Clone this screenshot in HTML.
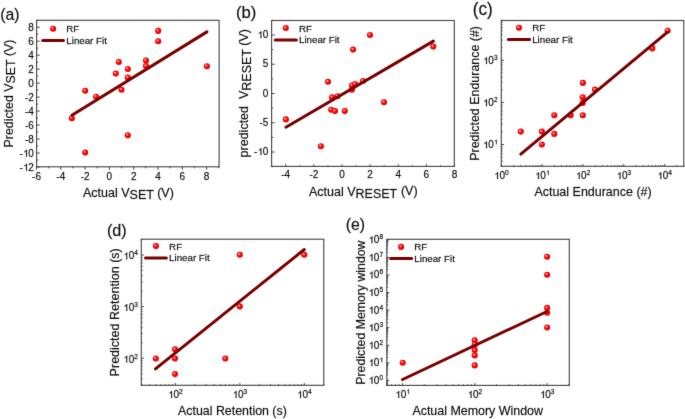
<!DOCTYPE html>
<html><head><meta charset="utf-8"><style>
html,body{margin:0;padding:0;background:#fff;width:685px;height:419px;overflow:hidden}
svg{display:block}
text{stroke:#111;stroke-width:0.3px;stroke-opacity:0.6}
</style></head><body>
<svg width="685" height="419" viewBox="0 0 685 419" font-family='"Liberation Sans", sans-serif' fill="#111111">
<defs><radialGradient id="dot" cx="0.5" cy="0.5" r="0.5" fx="0.33" fy="0.31">
<stop offset="0" stop-color="#ffffff"/><stop offset="0.16" stop-color="#ffb4b4"/><stop offset="0.38" stop-color="#ff2c2c"/><stop offset="0.6" stop-color="#ff0000"/><stop offset="1" stop-color="#e80000"/></radialGradient>
<path id="one" d="M843,0H663V1098Q598,1038 492,979Q387,920 303,890V1057Q454,1125 567,1221Q680,1318 727,1409H843Z" fill="#111111" stroke="#111111" stroke-width="0.3" stroke-opacity="0.6" vector-effect="non-scaling-stroke"/></defs>
<defs><filter id="bl" filterUnits="userSpaceOnUse" x="-6" y="-6" width="697" height="431" color-interpolation-filters="sRGB"><feConvolveMatrix order="3" kernelMatrix="0.0064 0.0672 0.0064 0.0672 0.7056 0.0672 0.0064 0.0672 0.0064" divisor="1" edgeMode="duplicate" preserveAlpha="true"/></filter></defs>
<g filter="url(#bl)">
<rect x="-6" y="-6" width="697" height="431" fill="#fff"/>
<rect x="36.60" y="20.30" width="182.50" height="146.50" fill="none" stroke="#4a4a4a" stroke-width="1.15"/>
<path d="M36.50,166.80v3.00M60.80,166.80v3.00M85.10,166.80v3.00M109.40,166.80v3.00M133.70,166.80v3.00M158.00,166.80v3.00M182.30,166.80v3.00M206.60,166.80v3.00M48.65,166.80v1.50M72.95,166.80v1.50M97.25,166.80v1.50M121.55,166.80v1.50M145.85,166.80v1.50M170.15,166.80v1.50M194.45,166.80v1.50M218.75,166.80v1.50" stroke="#3a3a3a" stroke-width="0.9" fill="none"/>
<path d="M36.60,166.98h3.20M36.60,153.00h3.20M36.60,139.02h3.20M36.60,125.04h3.20M36.60,111.07h3.20M36.60,97.09h3.20M36.60,83.11h3.20M36.60,69.13h3.20M36.60,55.16h3.20M36.60,41.18h3.20M36.60,27.20h3.20M36.60,159.99h1.60M36.60,146.01h1.60M36.60,132.03h1.60M36.60,118.06h1.60M36.60,104.08h1.60M36.60,90.10h1.60M36.60,76.12h1.60M36.60,62.14h1.60M36.60,48.17h1.60M36.60,34.19h1.60M36.60,20.21h1.60" stroke="#3a3a3a" stroke-width="0.9" fill="none"/>
<text x="32.05" y="180.00" font-size="10">-6</text>
<text x="56.35" y="180.00" font-size="10">-4</text>
<text x="80.65" y="180.00" font-size="10">-2</text>
<text x="106.62" y="180.00" font-size="10">0</text>
<text x="130.92" y="180.00" font-size="10">2</text>
<text x="155.22" y="180.00" font-size="10">4</text>
<text x="179.52" y="180.00" font-size="10">6</text>
<text x="203.82" y="180.00" font-size="10">8</text>
<text x="19.45" y="170.68" font-size="10">-&#x2007;2</text>
<use href="#one" transform="translate(22.78,170.68) scale(0.00488,-0.00488)"/>
<text x="19.45" y="156.70" font-size="10">-&#x2007;0</text>
<use href="#one" transform="translate(22.78,156.70) scale(0.00488,-0.00488)"/>
<text x="25.01" y="142.72" font-size="10">-8</text>
<text x="25.01" y="128.74" font-size="10">-6</text>
<text x="25.01" y="114.77" font-size="10">-4</text>
<text x="25.01" y="100.79" font-size="10">-2</text>
<text x="28.34" y="86.81" font-size="10">0</text>
<text x="28.34" y="72.83" font-size="10">2</text>
<text x="28.34" y="58.86" font-size="10">4</text>
<text x="28.34" y="44.88" font-size="10">6</text>
<text x="28.34" y="30.90" font-size="10">8</text>
<circle cx="118.80" cy="62.00" r="3.05" fill="url(#dot)"/>
<circle cx="127.80" cy="69.00" r="3.05" fill="url(#dot)"/>
<circle cx="115.80" cy="73.60" r="3.05" fill="url(#dot)"/>
<circle cx="127.80" cy="77.60" r="3.05" fill="url(#dot)"/>
<circle cx="85.20" cy="90.80" r="3.05" fill="url(#dot)"/>
<circle cx="121.50" cy="89.80" r="3.05" fill="url(#dot)"/>
<circle cx="96.10" cy="96.70" r="3.05" fill="url(#dot)"/>
<circle cx="158.20" cy="30.90" r="3.05" fill="url(#dot)"/>
<circle cx="158.20" cy="41.20" r="3.05" fill="url(#dot)"/>
<circle cx="146.00" cy="60.50" r="3.05" fill="url(#dot)"/>
<circle cx="146.00" cy="66.00" r="3.05" fill="url(#dot)"/>
<circle cx="206.90" cy="66.20" r="3.05" fill="url(#dot)"/>
<circle cx="71.80" cy="118.20" r="3.05" fill="url(#dot)"/>
<circle cx="127.80" cy="135.20" r="3.05" fill="url(#dot)"/>
<circle cx="85.20" cy="152.60" r="3.05" fill="url(#dot)"/>
<line x1="71.90" y1="115.20" x2="206.90" y2="31.90" stroke="#7a0000" stroke-width="3.0" stroke-linecap="round"/>
<circle cx="53.10" cy="28.70" r="3.05" fill="url(#dot)"/>
<line x1="42.70" y1="40.40" x2="63.50" y2="40.40" stroke="#7a0000" stroke-width="3.0" stroke-linecap="round"/>
<text transform="translate(66.30,32.10) scale(1.037,1)" font-size="9.4" >RF</text>
<text transform="translate(66.30,44.00) scale(1.037,1)" font-size="9.4" >Linear Fit</text>
<text transform="translate(0.15,19.90) scale(0.970,1)" font-size="16.3" >(a)</text>
<text x="83.00" y="197.10" font-size="12.5" text-anchor="start" >Actual V<tspan dy="2.1">SET</tspan><tspan dy="-2.1"> (V)</tspan></text>
<text transform="translate(12.80,147.50) rotate(-90) scale(1.000,1)" font-size="12.4" >Predicted V<tspan dy="2.4">SET</tspan><tspan dy="-2.4"> (V)</tspan></text>
<rect x="271.60" y="20.50" width="182.70" height="145.90" fill="none" stroke="#4a4a4a" stroke-width="1.15"/>
<path d="M285.70,166.40v-2.20M313.84,166.40v-2.20M341.98,166.40v-2.20M370.12,166.40v-2.20M398.26,166.40v-2.20M426.40,166.40v-2.20M454.54,166.40v-2.20M271.63,166.40v-1.10M299.77,166.40v-1.10M327.91,166.40v-1.10M356.05,166.40v-1.10M384.19,166.40v-1.10M412.33,166.40v-1.10M440.47,166.40v-1.10" stroke="#3a3a3a" stroke-width="0.9" fill="none"/>
<path d="M271.60,152.00h3.20M271.60,122.75h3.20M271.60,93.50h3.20M271.60,64.25h3.20M271.60,35.00h3.20M271.60,166.62h1.60M271.60,137.38h1.60M271.60,108.12h1.60M271.60,78.88h1.60M271.60,49.62h1.60M271.60,20.38h1.60" stroke="#3a3a3a" stroke-width="0.9" fill="none"/>
<text x="281.25" y="178.20" font-size="10">-4</text>
<text x="309.39" y="178.20" font-size="10">-2</text>
<text x="339.20" y="178.20" font-size="10">0</text>
<text x="367.34" y="178.20" font-size="10">2</text>
<text x="395.48" y="178.20" font-size="10">4</text>
<text x="423.62" y="178.20" font-size="10">6</text>
<text x="451.76" y="178.20" font-size="10">8</text>
<text x="253.95" y="155.10" font-size="10">-&#x2007;0</text>
<use href="#one" transform="translate(257.28,155.10) scale(0.00488,-0.00488)"/>
<text x="259.51" y="125.85" font-size="10">-5</text>
<text x="262.84" y="96.60" font-size="10">0</text>
<text x="262.84" y="67.35" font-size="10">5</text>
<text x="257.28" y="38.10" font-size="10">&#x2007;0</text>
<use href="#one" transform="translate(257.28,38.10) scale(0.00488,-0.00488)"/>
<circle cx="353.10" cy="49.60" r="3.05" fill="url(#dot)"/>
<circle cx="370.00" cy="35.00" r="3.05" fill="url(#dot)"/>
<circle cx="328.00" cy="81.80" r="3.05" fill="url(#dot)"/>
<circle cx="351.90" cy="85.50" r="3.05" fill="url(#dot)"/>
<circle cx="355.10" cy="84.00" r="3.05" fill="url(#dot)"/>
<circle cx="363.00" cy="81.00" r="3.05" fill="url(#dot)"/>
<circle cx="351.90" cy="89.80" r="3.05" fill="url(#dot)"/>
<circle cx="331.90" cy="97.20" r="3.05" fill="url(#dot)"/>
<circle cx="337.60" cy="96.20" r="3.05" fill="url(#dot)"/>
<circle cx="331.20" cy="109.70" r="3.05" fill="url(#dot)"/>
<circle cx="335.00" cy="111.10" r="3.05" fill="url(#dot)"/>
<circle cx="344.80" cy="111.10" r="3.05" fill="url(#dot)"/>
<circle cx="285.90" cy="119.40" r="3.05" fill="url(#dot)"/>
<circle cx="320.90" cy="146.20" r="3.05" fill="url(#dot)"/>
<circle cx="433.30" cy="46.60" r="3.05" fill="url(#dot)"/>
<circle cx="384.00" cy="102.30" r="3.05" fill="url(#dot)"/>
<line x1="285.90" y1="127.20" x2="433.40" y2="41.10" stroke="#7a0000" stroke-width="3.0" stroke-linecap="round"/>
<circle cx="285.80" cy="28.00" r="3.05" fill="url(#dot)"/>
<line x1="275.30" y1="40.00" x2="296.40" y2="40.00" stroke="#7a0000" stroke-width="3.0" stroke-linecap="round"/>
<text transform="translate(299.00,31.90) scale(1.037,1)" font-size="9.4" >RF</text>
<text transform="translate(299.00,43.30) scale(1.037,1)" font-size="9.4" >Linear Fit</text>
<text transform="translate(235.90,17.70) scale(1.040,1)" font-size="16" >(b)</text>
<text x="309.00" y="195.80" font-size="12.5" text-anchor="start" >Actual V<tspan dy="1.7">RESET</tspan><tspan dy="-2.4" dx="0.4"> (V)</tspan></text>
<text transform="translate(248.20,157.40) rotate(-90) scale(1.000,1)" font-size="12.5" xml:space="preserve">predicted  V<tspan dy="2.6">RESET</tspan><tspan dy="-2.6"> (V)</tspan></text>
<rect x="501.30" y="20.50" width="182.50" height="145.80" fill="none" stroke="#4a4a4a" stroke-width="1.15"/>
<path d="M501.30,166.30v-2.20M542.12,166.30v-2.20M582.95,166.30v-2.20M623.77,166.30v-2.20M664.60,166.30v-2.20M513.59,166.30v-1.10M520.78,166.30v-1.10M525.88,166.30v-1.10M529.84,166.30v-1.10M533.07,166.30v-1.10M535.80,166.30v-1.10M538.17,166.30v-1.10M540.26,166.30v-1.10M554.41,166.30v-1.10M561.60,166.30v-1.10M566.70,166.30v-1.10M570.66,166.30v-1.10M573.89,166.30v-1.10M576.63,166.30v-1.10M578.99,166.30v-1.10M581.08,166.30v-1.10M595.24,166.30v-1.10M602.43,166.30v-1.10M607.53,166.30v-1.10M611.49,166.30v-1.10M614.72,166.30v-1.10M617.45,166.30v-1.10M619.82,166.30v-1.10M621.91,166.30v-1.10M636.06,166.30v-1.10M643.25,166.30v-1.10M648.35,166.30v-1.10M652.31,166.30v-1.10M655.54,166.30v-1.10M658.28,166.30v-1.10M660.64,166.30v-1.10M662.73,166.30v-1.10M676.89,166.30v-1.10M684.08,166.30v-1.10" stroke="#3a3a3a" stroke-width="0.9" fill="none"/>
<path d="M501.30,144.50h2.80M501.30,102.40h2.80M501.30,60.30h2.80M501.30,166.51h1.30M501.30,161.25h1.30M501.30,157.17h1.30M501.30,153.84h1.30M501.30,151.02h1.30M501.30,148.58h1.30M501.30,146.43h1.30M501.30,131.83h1.30M501.30,124.41h1.30M501.30,119.15h1.30M501.30,115.07h1.30M501.30,111.74h1.30M501.30,108.92h1.30M501.30,106.48h1.30M501.30,104.33h1.30M501.30,89.73h1.30M501.30,82.31h1.30M501.30,77.05h1.30M501.30,72.97h1.30M501.30,69.64h1.30M501.30,66.82h1.30M501.30,64.38h1.30M501.30,62.23h1.30M501.30,47.63h1.30M501.30,40.21h1.30M501.30,34.95h1.30M501.30,30.87h1.30M501.30,27.54h1.30M501.30,24.72h1.30M501.30,22.28h1.30M501.30,20.13h1.30" stroke="#3a3a3a" stroke-width="0.9" fill="none"/>
<text x="493.90" y="179.10" font-size="10">&#x2007;0<tspan font-size="6.6" dy="-4.0">0</tspan></text>
<use href="#one" transform="translate(493.90,179.10) scale(0.00488,-0.00488)"/>
<text x="534.73" y="179.10" font-size="10">&#x2007;0<tspan font-size="6.6" dy="-4.0">&#x2007;</tspan></text>
<use href="#one" transform="translate(534.73,179.10) scale(0.00488,-0.00488)"/>
<use href="#one" transform="translate(545.85,175.10) scale(0.00322,-0.00322)"/>
<text x="575.55" y="179.10" font-size="10">&#x2007;0<tspan font-size="6.6" dy="-4.0">2</tspan></text>
<use href="#one" transform="translate(575.55,179.10) scale(0.00488,-0.00488)"/>
<text x="616.38" y="179.10" font-size="10">&#x2007;0<tspan font-size="6.6" dy="-4.0">3</tspan></text>
<use href="#one" transform="translate(616.38,179.10) scale(0.00488,-0.00488)"/>
<text x="657.20" y="179.10" font-size="10">&#x2007;0<tspan font-size="6.6" dy="-4.0">4</tspan></text>
<use href="#one" transform="translate(657.20,179.10) scale(0.00488,-0.00488)"/>
<text x="482.81" y="148.30" font-size="10">&#x2007;0<tspan font-size="6.6" dy="-4.0">&#x2007;</tspan></text>
<use href="#one" transform="translate(482.81,148.30) scale(0.00488,-0.00488)"/>
<use href="#one" transform="translate(493.93,144.30) scale(0.00322,-0.00322)"/>
<text x="482.81" y="106.20" font-size="10">&#x2007;0<tspan font-size="6.6" dy="-4.0">2</tspan></text>
<use href="#one" transform="translate(482.81,106.20) scale(0.00488,-0.00488)"/>
<text x="482.81" y="64.10" font-size="10">&#x2007;0<tspan font-size="6.6" dy="-4.0">3</tspan></text>
<use href="#one" transform="translate(482.81,64.10) scale(0.00488,-0.00488)"/>
<circle cx="520.80" cy="131.60" r="3.05" fill="url(#dot)"/>
<circle cx="541.90" cy="131.60" r="3.05" fill="url(#dot)"/>
<circle cx="541.90" cy="144.50" r="3.05" fill="url(#dot)"/>
<circle cx="554.30" cy="133.90" r="3.05" fill="url(#dot)"/>
<circle cx="554.30" cy="115.30" r="3.05" fill="url(#dot)"/>
<circle cx="570.60" cy="115.30" r="3.05" fill="url(#dot)"/>
<circle cx="582.80" cy="115.30" r="3.05" fill="url(#dot)"/>
<circle cx="582.70" cy="102.90" r="3.05" fill="url(#dot)"/>
<circle cx="582.70" cy="97.20" r="3.05" fill="url(#dot)"/>
<circle cx="582.90" cy="82.90" r="3.05" fill="url(#dot)"/>
<circle cx="595.00" cy="89.60" r="3.05" fill="url(#dot)"/>
<circle cx="652.30" cy="48.40" r="3.05" fill="url(#dot)"/>
<circle cx="667.60" cy="30.70" r="3.05" fill="url(#dot)"/>
<line x1="520.80" y1="154.10" x2="667.20" y2="32.40" stroke="#7a0000" stroke-width="3.0" stroke-linecap="round"/>
<circle cx="519.00" cy="27.80" r="3.05" fill="url(#dot)"/>
<line x1="508.40" y1="39.50" x2="529.60" y2="39.50" stroke="#7a0000" stroke-width="3.0" stroke-linecap="round"/>
<text transform="translate(532.20,31.10) scale(1.037,1)" font-size="9.4" >RF</text>
<text transform="translate(532.20,42.70) scale(1.037,1)" font-size="9.4" >Linear Fit</text>
<text transform="translate(472.70,15.24) scale(0.956,1)" font-size="18" >(c)</text>
<text x="534.40" y="195.90" font-size="12.49" text-anchor="start" >Actual Endurance (#)</text>
<text transform="translate(479.30,160.80) rotate(-90) scale(1.000,1)" font-size="12.44" >Predicted Endurance (#)</text>
<rect x="141.30" y="239.20" width="182.50" height="146.10" fill="none" stroke="#4a4a4a" stroke-width="1.15"/>
<path d="M175.30,385.30v-2.20M239.80,385.30v-2.20M304.30,385.30v-2.20M141.57,385.30v-1.10M149.63,385.30v-1.10M155.88,385.30v-1.10M160.99,385.30v-1.10M165.31,385.30v-1.10M169.05,385.30v-1.10M172.35,385.30v-1.10M194.72,385.30v-1.10M206.07,385.30v-1.10M214.13,385.30v-1.10M220.38,385.30v-1.10M225.49,385.30v-1.10M229.81,385.30v-1.10M233.55,385.30v-1.10M236.85,385.30v-1.10M259.22,385.30v-1.10M270.57,385.30v-1.10M278.63,385.30v-1.10M284.88,385.30v-1.10M289.99,385.30v-1.10M294.31,385.30v-1.10M298.05,385.30v-1.10M301.35,385.30v-1.10M323.72,385.30v-1.10" stroke="#3a3a3a" stroke-width="0.9" fill="none"/>
<path d="M141.30,358.20h2.60M141.30,306.60h2.60M141.30,255.00h2.60M141.30,385.18h1.30M141.30,378.73h1.30M141.30,373.73h1.30M141.30,369.65h1.30M141.30,366.19h1.30M141.30,363.20h1.30M141.30,360.56h1.30M141.30,342.67h1.30M141.30,333.58h1.30M141.30,327.13h1.30M141.30,322.13h1.30M141.30,318.05h1.30M141.30,314.59h1.30M141.30,311.60h1.30M141.30,308.96h1.30M141.30,291.07h1.30M141.30,281.98h1.30M141.30,275.53h1.30M141.30,270.53h1.30M141.30,266.45h1.30M141.30,262.99h1.30M141.30,260.00h1.30M141.30,257.36h1.30M141.30,239.47h1.30" stroke="#3a3a3a" stroke-width="0.9" fill="none"/>
<text x="167.90" y="397.90" font-size="10">&#x2007;0<tspan font-size="6.6" dy="-4.0">2</tspan></text>
<use href="#one" transform="translate(167.90,397.90) scale(0.00488,-0.00488)"/>
<text x="232.40" y="397.90" font-size="10">&#x2007;0<tspan font-size="6.6" dy="-4.0">3</tspan></text>
<use href="#one" transform="translate(232.40,397.90) scale(0.00488,-0.00488)"/>
<text x="296.90" y="397.90" font-size="10">&#x2007;0<tspan font-size="6.6" dy="-4.0">4</tspan></text>
<use href="#one" transform="translate(296.90,397.90) scale(0.00488,-0.00488)"/>
<text x="123.11" y="362.60" font-size="10">&#x2007;0<tspan font-size="6.6" dy="-4.0">2</tspan></text>
<use href="#one" transform="translate(123.11,362.60) scale(0.00488,-0.00488)"/>
<text x="123.11" y="311.00" font-size="10">&#x2007;0<tspan font-size="6.6" dy="-4.0">3</tspan></text>
<use href="#one" transform="translate(123.11,311.00) scale(0.00488,-0.00488)"/>
<text x="123.11" y="259.40" font-size="10">&#x2007;0<tspan font-size="6.6" dy="-4.0">4</tspan></text>
<use href="#one" transform="translate(123.11,259.40) scale(0.00488,-0.00488)"/>
<circle cx="155.80" cy="358.50" r="3.05" fill="url(#dot)"/>
<circle cx="175.00" cy="358.50" r="3.05" fill="url(#dot)"/>
<circle cx="175.00" cy="349.30" r="3.05" fill="url(#dot)"/>
<circle cx="175.00" cy="374.10" r="3.05" fill="url(#dot)"/>
<circle cx="225.30" cy="358.50" r="3.05" fill="url(#dot)"/>
<circle cx="239.80" cy="306.40" r="3.05" fill="url(#dot)"/>
<circle cx="239.80" cy="254.80" r="3.05" fill="url(#dot)"/>
<circle cx="304.30" cy="254.80" r="3.05" fill="url(#dot)"/>
<line x1="155.50" y1="368.80" x2="304.30" y2="249.50" stroke="#7a0000" stroke-width="3.0" stroke-linecap="round"/>
<circle cx="155.90" cy="246.10" r="3.05" fill="url(#dot)"/>
<line x1="145.50" y1="258.10" x2="166.40" y2="258.10" stroke="#7a0000" stroke-width="3.0" stroke-linecap="round"/>
<text transform="translate(169.10,249.90) scale(1.037,1)" font-size="9.4" >RF</text>
<text transform="translate(169.10,261.30) scale(1.037,1)" font-size="9.4" >Linear Fit</text>
<text transform="translate(106.90,236.30) scale(0.990,1)" font-size="16.4" >(d)</text>
<text x="178.00" y="414.50" font-size="12.4" text-anchor="start" >Actual Retention (s)</text>
<text transform="translate(119.00,376.40) rotate(-90) scale(1.000,1)" font-size="12.54" >Predicted Retention (s)</text>
<rect x="386.80" y="239.30" width="182.50" height="146.10" fill="none" stroke="#4a4a4a" stroke-width="1.15"/>
<path d="M402.50,385.40v-2.20M474.80,385.40v-2.20M547.10,385.40v-2.20M386.46,385.40v-1.10M391.30,385.40v-1.10M395.49,385.40v-1.10M399.19,385.40v-1.10M424.26,385.40v-1.10M437.00,385.40v-1.10M446.03,385.40v-1.10M453.04,385.40v-1.10M458.76,385.40v-1.10M463.60,385.40v-1.10M467.79,385.40v-1.10M471.49,385.40v-1.10M496.56,385.40v-1.10M509.30,385.40v-1.10M518.33,385.40v-1.10M525.34,385.40v-1.10M531.06,385.40v-1.10M535.90,385.40v-1.10M540.09,385.40v-1.10M543.79,385.40v-1.10M568.86,385.40v-1.10" stroke="#3a3a3a" stroke-width="0.9" fill="none"/>
<path d="M386.80,380.30h2.60M386.80,362.75h2.60M386.80,345.20h2.60M386.80,327.65h2.60M386.80,310.10h2.60M386.80,292.55h2.60M386.80,275.00h2.60M386.80,257.45h2.60M386.80,239.90h2.60M386.80,385.58h1.30M386.80,384.19h1.30M386.80,383.02h1.30M386.80,382.00h1.30M386.80,381.10h1.30M386.80,375.02h1.30M386.80,371.93h1.30M386.80,369.73h1.30M386.80,368.03h1.30M386.80,366.64h1.30M386.80,365.47h1.30M386.80,364.45h1.30M386.80,363.55h1.30M386.80,357.47h1.30M386.80,354.38h1.30M386.80,352.18h1.30M386.80,350.48h1.30M386.80,349.09h1.30M386.80,347.92h1.30M386.80,346.90h1.30M386.80,346.00h1.30M386.80,339.92h1.30M386.80,336.83h1.30M386.80,334.63h1.30M386.80,332.93h1.30M386.80,331.54h1.30M386.80,330.37h1.30M386.80,329.35h1.30M386.80,328.45h1.30M386.80,322.37h1.30M386.80,319.28h1.30M386.80,317.08h1.30M386.80,315.38h1.30M386.80,313.99h1.30M386.80,312.82h1.30M386.80,311.80h1.30M386.80,310.90h1.30M386.80,304.82h1.30M386.80,301.73h1.30M386.80,299.53h1.30M386.80,297.83h1.30M386.80,296.44h1.30M386.80,295.27h1.30M386.80,294.25h1.30M386.80,293.35h1.30M386.80,287.27h1.30M386.80,284.18h1.30M386.80,281.98h1.30M386.80,280.28h1.30M386.80,278.89h1.30M386.80,277.72h1.30M386.80,276.70h1.30M386.80,275.80h1.30M386.80,269.72h1.30M386.80,266.63h1.30M386.80,264.43h1.30M386.80,262.73h1.30M386.80,261.34h1.30M386.80,260.17h1.30M386.80,259.15h1.30M386.80,258.25h1.30M386.80,252.17h1.30M386.80,249.08h1.30M386.80,246.88h1.30M386.80,245.18h1.30M386.80,243.79h1.30M386.80,242.62h1.30M386.80,241.60h1.30M386.80,240.70h1.30" stroke="#3a3a3a" stroke-width="0.9" fill="none"/>
<text x="395.10" y="397.90" font-size="10">&#x2007;0<tspan font-size="6.6" dy="-4.0">&#x2007;</tspan></text>
<use href="#one" transform="translate(395.10,397.90) scale(0.00488,-0.00488)"/>
<use href="#one" transform="translate(406.23,393.90) scale(0.00322,-0.00322)"/>
<text x="467.40" y="397.90" font-size="10">&#x2007;0<tspan font-size="6.6" dy="-4.0">2</tspan></text>
<use href="#one" transform="translate(467.40,397.90) scale(0.00488,-0.00488)"/>
<text x="539.70" y="397.90" font-size="10">&#x2007;0<tspan font-size="6.6" dy="-4.0">3</tspan></text>
<use href="#one" transform="translate(539.70,397.90) scale(0.00488,-0.00488)"/>
<text x="368.31" y="383.70" font-size="10">&#x2007;0<tspan font-size="6.6" dy="-4.0">0</tspan></text>
<use href="#one" transform="translate(368.31,383.70) scale(0.00488,-0.00488)"/>
<text x="368.31" y="366.15" font-size="10">&#x2007;0<tspan font-size="6.6" dy="-4.0">&#x2007;</tspan></text>
<use href="#one" transform="translate(368.31,366.15) scale(0.00488,-0.00488)"/>
<use href="#one" transform="translate(379.43,362.15) scale(0.00322,-0.00322)"/>
<text x="368.31" y="348.60" font-size="10">&#x2007;0<tspan font-size="6.6" dy="-4.0">2</tspan></text>
<use href="#one" transform="translate(368.31,348.60) scale(0.00488,-0.00488)"/>
<text x="368.31" y="331.05" font-size="10">&#x2007;0<tspan font-size="6.6" dy="-4.0">3</tspan></text>
<use href="#one" transform="translate(368.31,331.05) scale(0.00488,-0.00488)"/>
<text x="368.31" y="313.50" font-size="10">&#x2007;0<tspan font-size="6.6" dy="-4.0">4</tspan></text>
<use href="#one" transform="translate(368.31,313.50) scale(0.00488,-0.00488)"/>
<text x="368.31" y="295.95" font-size="10">&#x2007;0<tspan font-size="6.6" dy="-4.0">5</tspan></text>
<use href="#one" transform="translate(368.31,295.95) scale(0.00488,-0.00488)"/>
<text x="368.31" y="278.40" font-size="10">&#x2007;0<tspan font-size="6.6" dy="-4.0">6</tspan></text>
<use href="#one" transform="translate(368.31,278.40) scale(0.00488,-0.00488)"/>
<text x="368.31" y="260.85" font-size="10">&#x2007;0<tspan font-size="6.6" dy="-4.0">7</tspan></text>
<use href="#one" transform="translate(368.31,260.85) scale(0.00488,-0.00488)"/>
<text x="368.31" y="243.30" font-size="10">&#x2007;0<tspan font-size="6.6" dy="-4.0">8</tspan></text>
<use href="#one" transform="translate(368.31,243.30) scale(0.00488,-0.00488)"/>
<circle cx="402.70" cy="362.70" r="3.05" fill="url(#dot)"/>
<circle cx="474.70" cy="340.40" r="3.05" fill="url(#dot)"/>
<circle cx="474.70" cy="344.70" r="3.05" fill="url(#dot)"/>
<circle cx="474.70" cy="350.10" r="3.05" fill="url(#dot)"/>
<circle cx="474.70" cy="355.40" r="3.05" fill="url(#dot)"/>
<circle cx="474.70" cy="365.40" r="3.05" fill="url(#dot)"/>
<circle cx="547.10" cy="256.80" r="3.05" fill="url(#dot)"/>
<circle cx="547.10" cy="274.70" r="3.05" fill="url(#dot)"/>
<circle cx="547.10" cy="307.90" r="3.05" fill="url(#dot)"/>
<circle cx="547.20" cy="312.80" r="3.05" fill="url(#dot)"/>
<circle cx="547.10" cy="327.50" r="3.05" fill="url(#dot)"/>
<line x1="402.60" y1="379.50" x2="547.00" y2="311.50" stroke="#7a0000" stroke-width="3.0" stroke-linecap="round"/>
<circle cx="401.10" cy="246.90" r="3.05" fill="url(#dot)"/>
<line x1="390.60" y1="258.60" x2="411.60" y2="258.60" stroke="#7a0000" stroke-width="3.0" stroke-linecap="round"/>
<text transform="translate(414.30,250.20) scale(1.037,1)" font-size="9.4" >RF</text>
<text transform="translate(414.30,261.90) scale(1.037,1)" font-size="9.4" >Linear Fit</text>
<text transform="translate(345.65,230.20) scale(0.965,1)" font-size="16.4" >(e)</text>
<text x="412.40" y="415.40" font-size="12.45" text-anchor="start" >Actual Memory Window</text>
<text transform="translate(364.90,384.70) rotate(-90) scale(1.000,1)" font-size="12.31" >Predicted Memory window</text>
</g></svg>
</body></html>
